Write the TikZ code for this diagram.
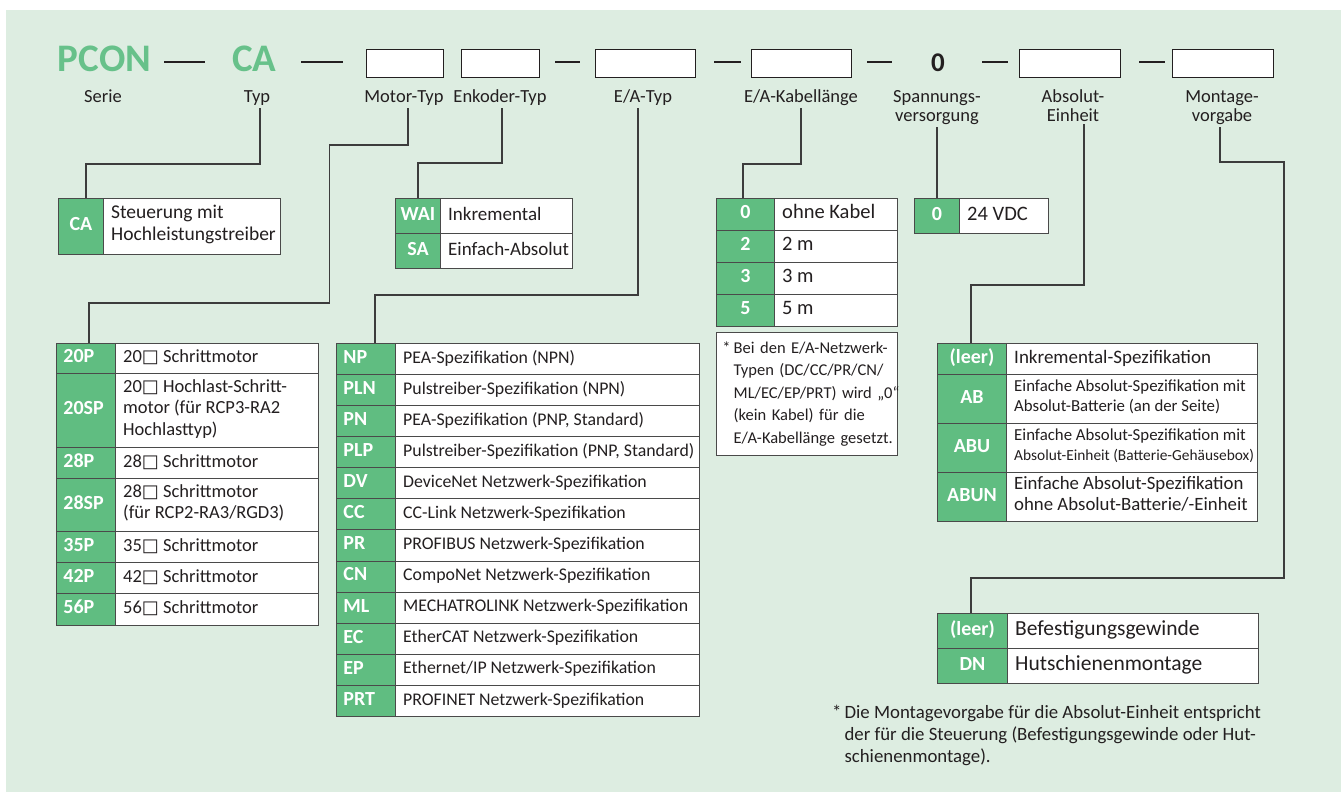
\documentclass[tikz,border=0pt]{standalone}
\usepackage{fontspec}
\setmainfont{Carlito}
\newfontfamily\symfont{DejaVu Sans}
\newcommand\fs[2]{\fontsize{#1pt}{#2pt}\selectfont}
% open square used in the motor sizes
\newcommand\sq{{\symfont\fontsize{18}{18}\selectfont\char"25A1}}
% current table geometry: code column width, text column width, text font
\newcommand\cw{45}
\newcommand\tw{177}
\newcommand\tfont{\fs{19.5}{22}}
% one table row: code style, name, x, y, height, code, description
\newcommand\trow[7]{%
  \node[#1, minimum height=#5] (#2-c) at (#3,#4) {#6};
  \node[txtcell, minimum width=\tw, minimum height=#5] (#2-t) at (#3+\cw,#4) {};
  \node[txtlbl] (#2-l) at ([xshift=8pt]#2-t.west) {#7};}

\definecolor{bg}{HTML}{DDEDE1}
\definecolor{cellgreen}{HTML}{60BD81}
\definecolor{brand}{HTML}{67C18A}
\definecolor{ink}{HTML}{231F20}
\definecolor{edge}{HTML}{4A4A4A}
\definecolor{wire}{HTML}{3C3C3C}

\tikzset{
  cellbase/.style={draw=edge, line width=0.9pt, anchor=north west, inner ysep=0pt},
  codebase/.style={cellbase, fill=cellgreen, text=white, font=\bfseries\fs{20}{22},
    execute at begin node=\strut, execute at end node=\strut},
  codeC/.style={codebase, inner xsep=0pt, minimum width=\cw, align=center},
  codeL/.style={codebase, inner xsep=7pt, text width=\cw-14, align=left},
  txtcell/.style={cellbase, fill=white, inner sep=0pt},
  txtlbl/.style={anchor=west, inner sep=0pt, text=ink, font=\tfont, align=left,
    execute at begin node=\strut, execute at end node=\strut},
  hbox/.style={draw=ink, line width=1.1pt, fill=white, anchor=north west,
    minimum height=28, inner sep=0pt},
  brandtxt/.style={anchor=base, text=brand, font=\bfseries\fs{39}{40}, inner sep=0pt},
  zerotxt/.style={anchor=base, text=ink, font=\bfseries\fs{27}{28}, inner sep=0pt},
  lbl/.style={anchor=base, text=ink, font=\fs{18.5}{19}, inner sep=3pt, align=center},
  dashln/.style={draw=ink, line width=1.3pt},
  conn/.style={draw=wire, line width=1.1pt},
  notebox/.style={draw=edge, line width=0.9pt, fill=white, anchor=north west,
    minimum width=181, minimum height=123, inner xsep=6pt, inner ysep=0pt,
    text width=169, text=ink, font=\fs{16.5}{22.5}},
  notetxt/.style={anchor=base west, inner sep=0pt, text=ink, font=\fs{18.8}{22}}
}

\begin{document}
\begin{tikzpicture}[x=1pt,y=-1pt]
\useasboundingbox (0,0) rectangle (1341,792);
\fill[bg] (6,10) rectangle (1341,792);

% ---- type code line ----
\node[brandtxt] (pcon) at (104.5,72) {PCON};
\node[brandtxt] (typ) at (254.5,72) {CA};
\node[hbox, minimum width=77] (b1) at (366,49) {};
\node[hbox, minimum width=78] (b2) at (461,49) {};
\node[hbox, minimum width=100] (b3) at (595,49) {};
\node[hbox, minimum width=100] (b4) at (751,49) {};
\node[zerotxt] (zero) at (938,72) {0};
\node[hbox, minimum width=101] (b5) at (1019,49) {};
\node[hbox, minimum width=101] (b6) at (1172,49) {};

\draw[dashln] (164,62) -- (205,62);
\draw[dashln] (301,62) -- (343,62);
\draw[dashln] (555,62) -- (580,62);
\draw[dashln] (714,62) -- (741,62);
\draw[dashln] (867,62) -- (892,62);
\draw[dashln] (982,62) -- (1008,62);
\draw[dashln] (1139,62) -- (1165,62);

% ---- field labels (two-line labels sit on their last line) ----
\node[lbl] (l-serie) at (103,102) {Serie};
\node[lbl] (l-typ) at (257,102) {Typ};
\node[lbl] (l-motor) at (404,102) {Motor-Typ};
\node[lbl] (l-enk) at (500,102) {Enkoder-Typ};
\node[lbl] (l-ea) at (643,102) {E/A-Typ};
\node[lbl] (l-kab) at (801,102) {E/A-Kabellänge};
\node[lbl] (l-spg) at (937,121) {Spannungs-\\versorgung};
\node[lbl] (l-abs) at (1073,121) {Absolut-\\Einheit};
\node[lbl] (l-mont) at (1222,121) {Montage-\\vorgabe};

% ---- Typ ----
\renewcommand\cw{45}\renewcommand\tw{177}\renewcommand\tfont{\fs{19.5}{22}}
\trow{codeC}{ca}{58}{198}{56}{CA}{Steuerung mit\\Hochleistungstreiber}

% ---- Enkoder-Typ ----
\renewcommand\cw{45}\renewcommand\tw{132}\renewcommand\tfont{\fs{19}{22}}
\trow{codeC}{wai}{395}{198}{35}{WAI}{Inkremental}
\trow{codeC}{sa}{395}{233}{35}{SA}{Einfach-Absolut}

% ---- E/A-Kabellaenge ----
\renewcommand\cw{58}\renewcommand\tw{123}\renewcommand\tfont{\fs{20.5}{22}}
\trow{codeC}{k0}{716}{198}{32}{0}{ohne Kabel}
\trow{codeC}{k2}{716}{230}{32}{2}{2 m}
\trow{codeC}{k3}{716}{262}{32}{3}{3 m}
\trow{codeC}{k5}{716}{294}{32}{5}{5 m}
\node[notebox] (kabnote) at (716,332) {%
  \begin{tabular}{@{}l@{\hspace{3pt}}l@{}}
  * & Bei den E/A-Netzwerk-\\
    & Typen (DC/CC/PR/CN/\\
    & ML/EC/EP/PRT) wird „0“\\
    & (kein Kabel) für die\\
    & E/A-Kabellänge gesetzt.
  \end{tabular}};

% ---- Spannungsversorgung ----
\renewcommand\cw{45}\renewcommand\tw{89}
\trow{codeC}{v0}{914}{198}{35}{0}{24 VDC}

% ---- Motor-Typ ----
\renewcommand\cw{59}\renewcommand\tw{203}\renewcommand\tfont{\fs{18.5}{21.5}}
\trow{codeL}{m20p}{56}{343}{30}{20P}{20\sq{} Schrittmotor}
\trow{codeL}{m20sp}{56}{373}{74}{20SP}{20\sq{} Hochlast-Schritt-\\motor (für RCP3-RA2\\Hochlasttyp)}
\trow{codeL}{m28p}{56}{447}{31}{28P}{28\sq{} Schrittmotor}
\trow{codeL}{m28sp}{56}{478}{53}{28SP}{28\sq{} Schrittmotor\\(für RCP2-RA3/RGD3)}
\trow{codeL}{m35p}{56}{531}{31}{35P}{35\sq{} Schrittmotor}
\trow{codeL}{m42p}{56}{562}{31}{42P}{42\sq{} Schrittmotor}
\trow{codeL}{m56p}{56}{593}{32}{56P}{56\sq{} Schrittmotor}

% ---- E/A-Typ ----
\renewcommand\cw{59}\renewcommand\tw{304}\renewcommand\tfont{\fs{17.8}{21}}
\trow{codeL}{np}{336}{343}{31.08}{NP}{PEA-Spezifikation (NPN)}
\trow{codeL}{pln}{336}{343+1*31.08}{31.08}{PLN}{Pulstreiber-Spezifikation (NPN)}
\trow{codeL}{pn}{336}{343+2*31.08}{31.08}{PN}{PEA-Spezifikation (PNP, Standard)}
\trow{codeL}{plp}{336}{343+3*31.08}{31.08}{PLP}{Pulstreiber-Spezifikation (PNP, Standard)}
\trow{codeL}{dv}{336}{343+4*31.08}{31.08}{DV}{DeviceNet Netzwerk-Spezifikation}
\trow{codeL}{cc}{336}{343+5*31.08}{31.08}{CC}{CC-Link Netzwerk-Spezifikation}
\trow{codeL}{pr}{336}{343+6*31.08}{31.08}{PR}{PROFIBUS Netzwerk-Spezifikation}
\trow{codeL}{cn}{336}{343+7*31.08}{31.08}{CN}{CompoNet Netzwerk-Spezifikation}
\trow{codeL}{ml}{336}{343+8*31.08}{31.08}{ML}{MECHATROLINK Netzwerk-Spezifikation}
\trow{codeL}{ec}{336}{343+9*31.08}{31.08}{EC}{EtherCAT Netzwerk-Spezifikation}
\trow{codeL}{ep}{336}{343+10*31.08}{31.08}{EP}{Ethernet/IP Netzwerk-Spezifikation}
\trow{codeL}{prt}{336}{343+11*31.08}{31.08}{PRT}{PROFINET Netzwerk-Spezifikation}

% ---- Absolut-Einheit ----
\renewcommand\cw{69}\renewcommand\tw{251}
\renewcommand\tfont{\fs{19}{21}}
\trow{codeC}{aleer}{937}{343}{31}{(leer)}{Inkremental-Spezifikation}
\renewcommand\tfont{\fs{16.8}{20}}
\trow{codeC}{ab}{937}{374}{49}{AB}{Einfache Absolut-Spezifikation mit\\Absolut-Batterie (an der Seite)}
\trow{codeC}{abu}{937}{423}{49}{ABU}{Einfache Absolut-Spezifikation mit\\{\fs{15.4}{20}Absolut-Einheit (Batterie-Gehäusebox)}}
\renewcommand\tfont{\fs{18.8}{21}}
\trow{codeC}{abun}{937}{472}{49}{ABUN}{Einfache Absolut-Spezifikation\\ohne Absolut-Batterie/-Einheit}

% ---- Montagevorgabe ----
\renewcommand\cw{70}\renewcommand\tw{251}\renewcommand\tfont{\fs{21.5}{23}}
\trow{codeC}{mleer}{937}{613}{35}{(leer)}{Befestigungsgewinde}
\trow{codeC}{dn}{937}{648}{35}{DN}{Hutschienenmontage}

\node[notetxt] (montnote) at (832,718) {%
  \begin{tabular}[t]{@{}l@{\hspace{3pt}}l@{}}
  * & Die Montagevorgabe für die Absolut-Einheit entspricht\\
    & der für die Steuerung (Befestigungsgewinde oder Hut-\\
    & schienenmontage).
  \end{tabular}};

% ---- leader lines from the fields to their tables ----
\coordinate (ty-a) at (260,164);  \coordinate (ty-b) at (86,164);
\draw[conn] (l-typ.south -| ty-a) -- (ty-a) -- (ty-b) -- (ty-b |- ca-c.north);

\coordinate (mo-a) at (408,145);  \coordinate (mo-b) at (329.5,145);
\coordinate (mo-c) at (329.5,303); \coordinate (mo-d) at (89,303);
\draw[conn] (l-motor.south -| mo-a) -- (mo-a) -- (mo-b) -- (mo-c) -- (mo-d)
  -- (mo-d |- m20p-c.north);

\coordinate (en-a) at (502,163);  \coordinate (en-b) at (418,163);
\draw[conn] (l-enk.south -| en-a) -- (en-a) -- (en-b) -- (en-b |- wai-c.north);

\coordinate (ea-a) at (638,295);  \coordinate (ea-b) at (375,295);
\draw[conn] (l-ea.south -| ea-a) -- (ea-a) -- (ea-b) -- (ea-b |- np-c.north);

\coordinate (ka-a) at (801,164);  \coordinate (ka-b) at (743,164);
\draw[conn] (l-kab.south -| ka-a) -- (ka-a) -- (ka-b) -- (ka-b |- k0-c.north);

\coordinate (sp-a) at (937,160);
\draw[conn] (l-spg.south -| sp-a) -- (sp-a |- v0-c.north);

\coordinate (ab-a) at (1084,285); \coordinate (ab-b) at (971,285);
\draw[conn] (l-abs.south -| ab-a) -- (ab-a) -- (ab-b) -- (ab-b |- aleer-c.north);

\coordinate (mt-a) at (1220,162); \coordinate (mt-b) at (1284,162);
\coordinate (mt-c) at (1284,578); \coordinate (mt-d) at (971,578);
\draw[conn] (l-mont.south -| mt-a) -- (mt-a) -- (mt-b) -- (mt-c) -- (mt-d)
  -- (mt-d |- mleer-c.north);
\end{tikzpicture}
\end{document}
